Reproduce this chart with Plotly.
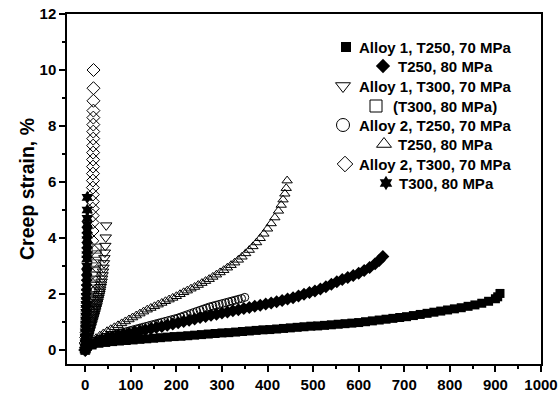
import plotly.graph_objects as go

# ---------------- creep curves: time (h) and creep strain (%) ----------------

# Alloy 1, T250, 70 MPa
a1_t250_70_time = [0, 15, 30, 45, 60, 75, 90, 105, 120, 135, 150, 165, 180, 195, 210, 225,
                   240, 255, 270, 285, 300, 315, 330, 345, 360, 375, 390, 405, 420, 435,
                   450, 465, 480, 495, 510, 525, 540, 555, 570, 585, 600, 615, 630, 645,
                   660, 675, 690, 705, 720, 735, 750, 765, 780, 795, 810, 825, 840, 855,
                   870, 885, 900, 905, 910]
a1_t250_70_strain = [0.00, 0.18, 0.24, 0.27, 0.30, 0.32, 0.34, 0.36, 0.38, 0.40, 0.42, 0.44,
                     0.46, 0.48, 0.49, 0.51, 0.53, 0.55, 0.57, 0.59, 0.61, 0.62, 0.64, 0.66,
                     0.68, 0.70, 0.72, 0.73, 0.75, 0.77, 0.79, 0.81, 0.83, 0.85, 0.86, 0.88,
                     0.90, 0.92, 0.94, 0.96, 0.98, 1.01, 1.04, 1.07, 1.10, 1.13, 1.16, 1.19,
                     1.23, 1.27, 1.31, 1.35, 1.39, 1.43, 1.47, 1.51, 1.56, 1.61, 1.67, 1.74,
                     1.83, 1.90, 2.02]

# Alloy 1, T250, 80 MPa
a1_t250_80_time = [0, 12, 24, 36, 48, 60, 72, 84, 96, 108, 120, 132, 144, 156, 168, 180, 192,
                   204, 216, 228, 240, 252, 264, 276, 288, 300, 312, 324, 336, 348, 360, 372,
                   384, 396, 408, 420, 432, 444, 456, 468, 480, 492, 504, 516, 528, 540, 552,
                   564, 576, 588, 600, 612, 624, 636, 645, 653]
a1_t250_80_strain = [0.00, 0.20, 0.29, 0.36, 0.42, 0.47, 0.52, 0.56, 0.60, 0.64, 0.68, 0.72,
                     0.76, 0.80, 0.84, 0.88, 0.93, 0.97, 1.02, 1.06, 1.11, 1.16, 1.20, 1.24,
                     1.28, 1.32, 1.36, 1.40, 1.44, 1.48, 1.52, 1.56, 1.60, 1.64, 1.68, 1.72,
                     1.77, 1.82, 1.87, 1.93, 1.99, 2.05, 2.11, 2.18, 2.26, 2.35, 2.44, 2.52,
                     2.59, 2.66, 2.74, 2.84, 2.95, 3.08, 3.20, 3.34]

# Alloy 1, T300, 70 MPa
a1_t300_70_time = [0, 1, 2, 3, 4, 5, 6, 7, 8, 9, 10, 11, 12, 13, 14, 15, 16, 17, 18, 19, 20,
                   21, 22, 23, 24, 25, 26, 27, 28, 29, 30, 31, 32, 33, 34, 35, 36, 37, 38,
                   39, 40, 41, 42, 43, 44, 45, 46]
a1_t300_70_strain = [0.00, 0.12, 0.22, 0.30, 0.37, 0.44, 0.50, 0.56, 0.62, 0.68, 0.73, 0.79,
                     0.84, 0.90, 0.95, 1.01, 1.06, 1.12, 1.17, 1.23, 1.29, 1.35, 1.41, 1.47,
                     1.53, 1.59, 1.66, 1.72, 1.79, 1.86, 1.93, 2.00, 2.08, 2.16, 2.25, 2.34,
                     2.44, 2.55, 2.67, 2.80, 2.94, 3.10, 3.28, 3.48, 3.72, 4.02, 4.45]

# Alloy 1, T300, 80 MPa
a1_t300_80_time = [0, 1, 2, 3, 4, 5, 6, 7, 8, 9, 10, 11, 12, 13, 14, 15, 16, 17, 18, 19, 20,
                   21, 22, 22.5, 23, 23.5, 24, 24.5, 25]
a1_t300_80_strain = [0.00, 0.15, 0.26, 0.35, 0.43, 0.51, 0.59, 0.67, 0.75, 0.83, 0.91, 1.00,
                     1.09, 1.18, 1.28, 1.39, 1.50, 1.62, 1.75, 1.90, 2.06, 2.25, 2.48, 2.62,
                     2.78, 2.95, 3.15, 3.38, 3.62]

# Alloy 2, T250, 70 MPa
a2_t250_70_time = [0, 7, 14, 21, 28, 35, 42, 49, 56, 63, 70, 77, 84, 91, 98, 105, 112, 119,
                   126, 133, 140, 147, 154, 161, 168, 175, 182, 189, 196, 203, 210, 217, 224,
                   231, 238, 245, 252, 259, 266, 273, 280, 287, 294, 301, 308, 315, 322, 329,
                   336, 343, 350]
a2_t250_70_strain = [0.00, 0.16, 0.25, 0.31, 0.36, 0.40, 0.44, 0.48, 0.51, 0.54, 0.57, 0.60,
                     0.63, 0.66, 0.69, 0.72, 0.75, 0.78, 0.81, 0.84, 0.87, 0.90, 0.93, 0.96,
                     0.99, 1.02, 1.05, 1.08, 1.11, 1.14, 1.18, 1.22, 1.26, 1.30, 1.34, 1.38,
                     1.42, 1.46, 1.50, 1.54, 1.57, 1.60, 1.63, 1.66, 1.69, 1.72, 1.75, 1.78,
                     1.81, 1.84, 1.88]

# Alloy 2, T250, 80 MPa
a2_t250_80_time = [0, 8, 16, 24, 32, 40, 48, 56, 64, 72, 80, 88, 96, 104, 112, 120, 128, 136,
                   144, 152, 160, 168, 176, 184, 192, 200, 208, 216, 224, 232, 240, 248, 256,
                   264, 272, 280, 288, 296, 304, 312, 320, 328, 336, 344, 352, 360, 368, 376,
                   384, 392, 400, 408, 416, 424, 430, 434, 438, 441, 443]
a2_t250_80_strain = [0.00, 0.20, 0.32, 0.42, 0.51, 0.59, 0.67, 0.74, 0.81, 0.88, 0.95, 1.02,
                     1.09, 1.16, 1.23, 1.30, 1.37, 1.44, 1.50, 1.56, 1.62, 1.68, 1.74, 1.80,
                     1.86, 1.92, 1.99, 2.06, 2.12, 2.19, 2.25, 2.32, 2.39, 2.46, 2.53, 2.61,
                     2.69, 2.77, 2.85, 2.94, 3.03, 3.12, 3.22, 3.33, 3.45, 3.57, 3.70, 3.84,
                     3.99, 4.15, 4.33, 4.52, 4.73, 4.97, 5.18, 5.37, 5.58, 5.78, 6.05]

# Alloy 2, T300, 70 MPa
a2_t300_70_time = [0, 1, 2, 3, 4, 5, 6, 7, 8, 9, 10, 11, 12, 13, 14, 15, 15.5, 16.0, 16.2,
                   16.4, 16.5, 16.6, 16.7, 16.8, 16.9, 17.0, 17.1, 17.2, 17.3, 17.4, 17.5,
                   17.6, 17.7, 17.8, 17.9, 18.0, 18.1, 18.2]
a2_t300_70_strain = [0.00, 0.25, 0.45, 0.62, 0.78, 0.94, 1.10, 1.27, 1.45, 1.65, 1.87, 2.12,
                     2.40, 2.72, 3.10, 3.60, 3.90, 4.25, 4.55, 4.80, 5.05, 5.30, 5.55, 5.80,
                     6.05, 6.30, 6.55, 6.80, 7.05, 7.30, 7.55, 7.80, 8.05, 8.30, 8.55, 8.90,
                     9.35, 10.00]

# Alloy 2, T300, 80 MPa
a2_t300_80_time = [0.0, 0.2, 0.4, 0.6, 0.8, 1.0, 1.2, 1.4, 1.6, 1.8, 2.0, 2.2, 2.4, 2.6, 2.8,
                   3.0, 3.2, 3.4, 3.6, 3.8, 3.9, 4.0, 4.1, 4.2, 4.25, 4.3, 4.35, 4.4, 4.45, 4.5]
a2_t300_80_strain = [0.00, 0.25, 0.45, 0.62, 0.78, 0.93, 1.07, 1.21, 1.35, 1.49, 1.63, 1.77,
                     1.92, 2.07, 2.23, 2.40, 2.58, 2.78, 3.00, 3.25, 3.40, 3.56, 3.74, 3.94,
                     4.10, 4.28, 4.48, 4.70, 5.00, 5.45]

# legend captions
labels = ["Alloy 1, T250, 70 MPa", "T250, 80 MPa", "Alloy 1, T300, 70 MPa", "(T300, 80 MPa)",
          "Alloy 2, T250, 70 MPa", "T250, 80 MPa", "Alloy 2, T300, 70 MPa", "T300, 80 MPa"]

# axis ticks
x_ticks = [0, 100, 200, 300, 400, 500, 600, 700, 800, 900, 1000]
y_ticks = [0, 2, 4, 6, 8, 10, 12]

# ---------------- styling ----------------
FONT = "Liberation Sans, Arial, Helvetica, sans-serif"

styles = [
    dict(symbol="square", size=9, color="black", line=dict(width=0)),
    dict(symbol="diamond", size=10, color="black", line=dict(width=0)),
    dict(symbol="triangle-down-open", size=10, color="black", line=dict(width=1)),
    dict(symbol="square-open", size=9, color="#404040", line=dict(width=1)),
    dict(symbol="circle-open", size=8, color="black", line=dict(width=1)),
    dict(symbol="triangle-up-open", size=9, color="black", line=dict(width=1)),
    dict(symbol="diamond-open", size=10, color="black", line=dict(width=1)),
    dict(symbol="hexagram", size=10, color="black", line=dict(width=0)),
]
legend_sizes = [10, 11, 13, 12, 13, 13, 12, 11]

series = [
    (a1_t250_70_time, a1_t250_70_strain),
    (a1_t250_80_time, a1_t250_80_strain),
    (a1_t300_70_time, a1_t300_70_strain),
    (a1_t300_80_time, a1_t300_80_strain),
    (a2_t250_70_time, a2_t250_70_strain),
    (a2_t250_80_time, a2_t250_80_strain),
    (a2_t300_70_time, a2_t300_70_strain),
    (a2_t300_80_time, a2_t300_80_strain),
]

# drawing order: open symbols underneath, filled symbols on top
draw_order = [4, 5, 6, 3, 2, 1, 0, 7]

fig = go.Figure()
for i in draw_order:
    t, e = series[i]
    fig.add_trace(go.Scatter(x=t, y=e, mode="markers", marker=styles[i],
                             name=labels[i], showlegend=False))

# ---------------- hand-laid legend (overlay axes in plot-area fractions) ----------------
W, H = 559, 399
L, R, T, B = 67, 18, 14, 35
pw, ph = W - L - R, H - T - B

legend_rows = [  # marker x, text x, row y (pixels)
    (346, 357, 47), (383, 396, 66), (343, 357, 86), (376, 391, 106),
    (343, 357, 125), (384, 396, 144), (345, 357, 164), (386, 397, 183),
]
annotations = []
for i, (mx, tx, ry) in enumerate(legend_rows):
    st = dict(styles[i])
    st["size"] = legend_sizes[i]
    st["color"] = "black"
    fig.add_trace(go.Scatter(x=[(mx - L) / pw], y=[(H - B - ry) / ph], mode="markers",
                             marker=st, xaxis="x2", yaxis="y2", showlegend=False,
                             hoverinfo="skip"))
    annotations.append(dict(x=(tx - L) / pw, y=(H - B - ry) / ph, xref="paper", yref="paper",
                            text=labels[i], showarrow=False, xanchor="left", yanchor="middle",
                            font=dict(family=FONT, size=15, color="black", weight="bold")))

axis_common = dict(showline=True, linecolor="black", linewidth=1.5, mirror=True,
                   showgrid=False, zeroline=False, ticks="outside", ticklen=6,
                   tickwidth=1.5, tickcolor="black", automargin=False,
                   tickfont=dict(family=FONT, size=15, color="black", weight="bold"))

fig.update_layout(
    width=W, height=H,
    margin=dict(l=L, r=R, t=T, b=B),
    paper_bgcolor="white", plot_bgcolor="white",
    showlegend=False,
    xaxis=dict(range=[-40, 1000], tickvals=x_ticks,
               minor=dict(dtick=50, tick0=0, ticks="outside", ticklen=3,
                          tickwidth=1.5, tickcolor="black"),
               **axis_common),
    yaxis=dict(range=[-0.5, 12], tickvals=y_ticks,
               minor=dict(dtick=1, tick0=0, ticks="outside", ticklen=3,
                          tickwidth=1.5, tickcolor="black"),
               title=dict(text="Creep strain, %", standoff=0,
                          font=dict(family=FONT, size=19.5, color="black", weight="bold")),
               **axis_common),
    xaxis2=dict(overlaying="x", range=[0, 1], visible=False),
    yaxis2=dict(overlaying="y", range=[0, 1], visible=False),
    annotations=annotations,
)

fig.write_html("out.html")
